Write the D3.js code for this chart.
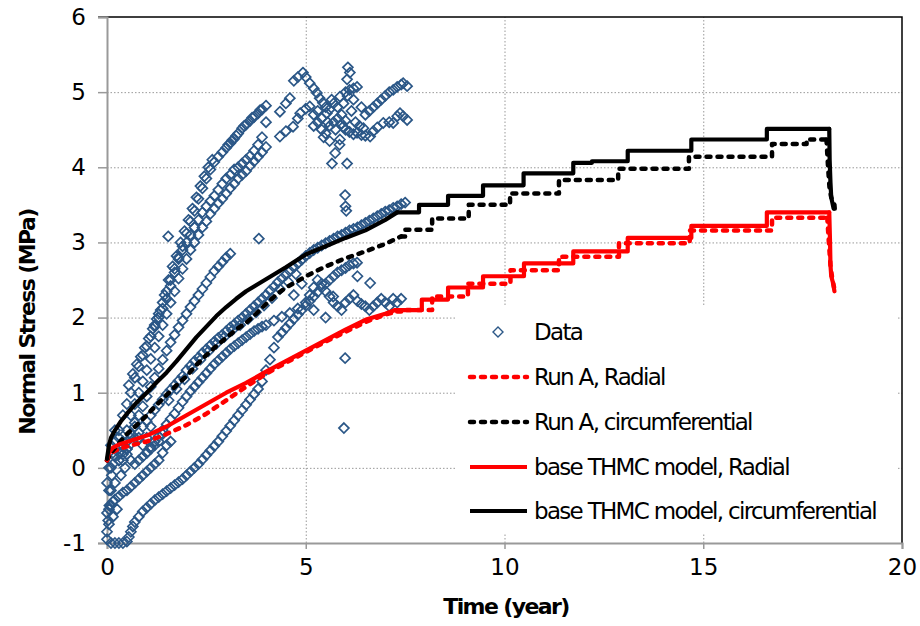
<!DOCTYPE html>
<html>
<head>
<meta charset="utf-8">
<script src="https://cdn.jsdelivr.net/npm/d3@7"></script>
<style>
  body { margin: 0; background: #fff; }
  svg { display: block; font-family: "DejaVu Sans", sans-serif; }
</style>
</head>
<body>
<svg id="chart" width="920" height="626"></svg>
<script>
// ---- data ----
const xTicks = [0, 5, 10, 15, 20];
const yTicks = [-1, 0, 1, 2, 3, 4, 5, 6];

// measured stress, one array per gauge branch [time (year), stress (MPa)]
const gaugeA = [[0.05,-0.3],[0.1,0.0],[0.15,0.2],[0.2,0.35],[0.3,0.5],[0.4,0.7],[0.5,0.85],[0.6,1.0],[0.7,1.2],[0.8,1.35],[0.9,1.5],[1.0,1.62],[1.1,1.75],[1.2,1.88],[1.3,2.0],[1.4,2.12],[1.5,2.25],[1.6,2.42],[1.7,2.6],[1.8,2.78],[1.9,2.95],[2.0,3.12],[2.1,3.28],[2.2,3.42],[2.3,3.58],[2.4,3.72],[2.5,3.85],[2.6,3.97],[2.7,4.07],[2.8,4.14],[2.9,4.2],[3.0,4.26],[3.1,4.32],[3.2,4.38],[3.3,4.45],[3.4,4.52],[3.5,4.57],[3.6,4.62],[3.7,4.67],[3.8,4.72],[3.9,4.77],[4.0,4.82],
  [4.35,4.74],[4.5,4.85],[4.6,4.92],[4.7,5.15],[4.8,5.2],[4.93,5.26],[5.0,5.2],[5.1,5.12],[5.2,5.05],[5.28,4.99],[5.35,4.92],[5.43,4.86],[5.5,4.8],[5.53,4.72],[5.6,4.77],[5.7,4.85],[5.86,4.94],[6.0,5.0],[6.1,5.03],[6.2,5.05],[6.29,5.07],[6.4,4.8],[6.5,4.7],[6.6,4.75],[6.7,4.8],[6.8,4.85],[6.9,4.9],[7.0,4.95],[7.1,5.0],[7.2,5.03],[7.3,5.07],[7.4,5.1],[7.45,5.12],[7.55,5.08]];
const gaugeA2 = [[0.55,1.1],[0.65,1.25],[0.75,1.38],[0.85,1.48],[0.95,1.6],[1.05,1.72],[1.15,1.85],[1.25,1.98],[1.35,2.1],[1.45,2.3],[1.55,2.5],[1.65,2.68],[1.75,2.82],[1.85,3.0],[1.95,3.15],[2.05,3.3],[2.15,3.45],[2.25,3.6],[2.35,3.75],[2.45,3.88],[2.55,4.0],[2.65,4.1],[3.05,4.3],[3.15,4.36],[3.25,4.42],[3.45,4.55],[3.65,4.66],[3.85,4.76]];
const gaugeB = [[0.2,-0.2],[0.3,0.1],[0.4,0.35],[0.5,0.5],[0.6,0.7],[0.7,0.85],[0.8,1.0],[0.9,1.15],[1.0,1.3],[1.1,1.45],[1.2,1.6],[1.3,1.75],[1.4,1.9],[1.5,2.05],[1.6,2.2],[1.7,2.35],[1.8,2.52],[1.9,2.65],[2.0,2.78],[2.1,2.9],[2.2,3.0],[2.3,3.1],[2.4,3.2],[2.5,3.28],[2.6,3.38],[2.7,3.45],[2.8,3.52],[2.9,3.58],[3.0,3.65],[3.1,3.72],[3.2,3.78],[3.3,3.85],[3.4,3.9],[3.5,3.95],[3.6,4.02],[3.7,4.08],[3.8,4.14],[3.9,4.2],[4.0,4.27],
  [4.35,4.41],[4.5,4.48],[4.68,4.54],[4.8,4.65],[4.86,4.72],[5.0,4.78],[5.1,4.81],[5.2,4.7],[5.3,4.6],[5.4,4.5],[5.5,4.45],[5.6,4.55],[5.7,4.6],[5.8,4.65],[5.9,4.58],[6.0,4.5],[6.1,4.47],[6.2,4.44],[6.29,4.46],[6.4,4.43],[6.5,4.42],[6.62,4.41],[6.7,4.48],[6.8,4.53],[6.95,4.59],[7.1,4.6],[7.2,4.59],[7.3,4.68],[7.37,4.72],[7.45,4.68],[7.55,4.63]];
const gaugeC = [[1.2,1.9],[1.3,2.05],[1.4,2.2],[1.5,2.35],[1.6,2.5],[1.7,2.65],[1.8,2.8],[1.9,2.9],[2.0,3.0],[2.1,3.1],[2.2,3.2],[2.3,3.3],[2.4,3.4],[2.5,3.48],[2.6,3.55],[2.7,3.62],[2.8,3.7],[2.9,3.78],[3.0,3.85],[3.1,3.9],[3.2,3.97],[3.3,4.0],[3.4,4.05],[3.5,4.1],[3.6,4.15],[3.7,4.22],[3.8,4.3],[3.9,4.4],[4.0,4.6]];
const gaugeD = [[0.4,0.1],[0.5,0.25],[0.6,0.4],[0.7,0.55],[0.8,0.7],[0.9,0.82],[1.0,0.95],[1.1,1.08],[1.2,1.2],[1.3,1.32],[1.4,1.44],[1.5,1.56],[1.6,1.67],[1.7,1.77],[1.8,1.87],[1.9,1.96],[2.0,2.05],[2.1,2.14],[2.2,2.22],[2.3,2.3],[2.4,2.38],[2.5,2.46],[2.6,2.54],[2.7,2.62],[2.8,2.68],[2.9,2.74],[3.0,2.8],[3.1,2.85]];
const gaugeE = [[0.3,0.1],[0.4,0.18],[0.5,0.25],[0.6,0.32],[0.7,0.4],[0.8,0.47],[0.9,0.55],[1.0,0.62],[1.1,0.7],[1.2,0.77],[1.3,0.84],[1.4,0.91],[1.5,0.98],[1.6,1.04],[1.7,1.1],[1.8,1.16],[1.9,1.22],[2.0,1.3],[2.1,1.36],[2.2,1.42],[2.3,1.47],[2.4,1.53],[2.5,1.58],[2.6,1.63],[2.7,1.68],[2.8,1.73],[2.9,1.77],[3.0,1.82],[3.1,1.87],[3.2,1.91],[3.3,1.96],[3.4,2.0],[3.5,2.05],[3.6,2.1],[3.7,2.15],[3.8,2.2],[3.9,2.25],[4.0,2.3],[4.1,2.36],[4.2,2.41],[4.3,2.47],[4.4,2.52],[4.5,2.57],[4.6,2.62],[4.7,2.67],[4.8,2.72],[4.9,2.77],[5.0,2.82],[5.1,2.86],[5.2,2.9],[5.3,2.93],[5.4,2.96],[5.5,2.99],[5.6,3.02],[5.7,3.05],[5.8,3.08],[5.9,3.1],[6.0,3.13],[6.1,3.16],[6.2,3.18],[6.3,3.2],[6.4,3.23],[6.5,3.26],[6.6,3.29],[6.7,3.32],[6.8,3.35],[6.9,3.38],[7.0,3.41],[7.1,3.43],[7.2,3.46],[7.3,3.48],[7.4,3.51],[7.5,3.53]];
const gaugeE2 = [[1.55,0.9],[1.75,1.05],[1.95,1.18],[2.15,1.32],[2.35,1.44],[2.55,1.55],[2.75,1.65],[2.95,1.74],[3.15,1.83],[3.35,1.9],[3.55,1.98],[3.75,2.07],[3.95,2.16],[4.15,2.26],[4.35,2.38],[4.55,2.48],[4.75,2.58]];
const gaugeF = [[1.0,0.2],[1.1,0.28],[1.2,0.35],[1.3,0.42],[1.4,0.5],[1.5,0.58],[1.6,0.65],[1.7,0.72],[1.8,0.8],[1.9,0.88],[2.0,0.95],[2.1,1.02],[2.2,1.08],[2.3,1.14],[2.4,1.2],[2.5,1.26],[2.6,1.32],[2.7,1.38],[2.8,1.43],[2.9,1.48],[3.0,1.53],[3.1,1.58],[3.2,1.62],[3.3,1.66],[3.4,1.7],[3.5,1.74],[3.6,1.78],[3.7,1.82],[3.8,1.85],[3.9,1.88],[4.0,1.9],[4.2,1.96],[4.4,2.01],[4.6,2.06],[4.8,2.12],[5.0,2.2],[5.1,2.3],[5.2,2.4],[5.3,2.5],[5.4,2.45],[5.5,2.35],[5.6,2.28],[5.7,2.2],[5.8,2.15],[5.9,2.1],[6.0,2.2],[6.1,2.25],[6.2,2.3],[6.3,2.22],[6.4,2.18],[6.5,2.15],[6.6,2.1],[6.7,2.15],[6.8,2.2],[6.9,2.25],[7.0,2.2],[7.1,2.15],[7.2,2.25],[7.3,2.2],[7.4,2.25]];
const gaugeG = [[0.0,-0.95],[0.1,-1.0],[0.2,-1.0],[0.3,-1.0],[0.4,-1.0],[0.5,-0.98],[0.55,-0.92],[0.6,-0.85],[0.65,-0.78],[0.7,-0.72],[0.8,-0.65],[0.9,-0.58],[1.0,-0.53],[1.1,-0.48],[1.2,-0.43],[1.3,-0.39],[1.4,-0.35],[1.5,-0.31],[1.6,-0.27],[1.7,-0.23],[1.8,-0.19],[1.9,-0.15],[2.0,-0.1],[2.1,-0.05],[2.2,0.0],[2.3,0.05],[2.4,0.11],[2.5,0.17],[2.6,0.23],[2.7,0.29],[2.8,0.35],[2.9,0.42],[3.0,0.49],[3.1,0.56],[3.2,0.63],[3.3,0.7],[3.4,0.77],[3.5,0.84],[3.6,0.91],[3.7,0.98],[3.8,1.05],[3.9,1.15],[4.0,1.3],[4.1,1.44],[4.2,1.6],[4.3,1.74],[4.4,1.8],[4.5,1.86],[4.6,1.92],[4.7,1.98],[4.8,2.04],[4.9,2.1],[5.0,2.16],[5.1,2.22],[5.2,2.28],[5.3,2.34],[5.4,2.4],[5.5,2.45],[5.6,2.5],[5.7,2.55],[5.8,2.6],[5.9,2.63],[6.0,2.66],[6.1,2.7],[6.2,2.72],[6.29,2.73]];
const gaugeH = [[0.0,-0.6],[0.05,-0.55],[0.1,-0.5],[0.15,-0.45],[0.2,-0.42],[0.3,-0.38],[0.4,-0.33],[0.5,-0.3],[0.6,-0.25],[0.7,-0.2],[0.8,-0.15],[0.9,-0.1],[1.0,-0.05],[1.1,0.0],[1.2,0.05],[1.3,0.1],[1.4,0.2],[1.5,0.3],[1.6,0.35]];
const gaugeI = [[0.0,-0.85],[0.03,-0.7],[0.06,-0.5],[0.1,-0.3],[0.12,-0.1],[0.15,0.05],[0.2,0.15],[0.3,0.2],[0.4,0.22],[0.5,0.18],[0.6,0.1],[0.7,0.05],[0.8,0.1],[0.9,0.15],[1.0,0.2],[1.1,0.25],[1.2,0.3],[1.3,0.35],[1.4,0.45]];
const gaugeJ = [[0.0,-0.2],[0.05,0.0],[0.1,0.3],[0.2,0.5],[0.3,0.4],[0.4,0.3],[0.5,0.35],[0.6,0.45],[0.7,0.6],[0.8,0.4],[0.9,0.3],[1.0,0.4],[1.1,0.55],[0.05,-0.75],[0.15,-0.65],[0.25,-0.55],[0.35,-0.1],[0.45,0.0]];
const clusterTop = [[5.2,4.55],[5.3,4.75],[5.4,4.65],[5.45,4.4],[5.55,4.6],[5.6,4.35],[5.65,4.9],[5.75,4.5],[5.8,4.8],[5.85,4.3],[5.9,4.7],[5.95,4.85],[6.0,4.62],[6.05,4.95],[6.06,5.33],[6.11,5.26],[6.04,5.17],[6.15,4.75],[6.2,4.9],[6.25,4.6],[6.35,4.55],[6.45,4.52],[5.86,4.37],[5.94,4.54]];
const outliers = [[1.54,3.08],[3.82,3.05],[5.96,0.53],[5.99,1.46],[5.99,3.63],[6.0,3.48],[6.02,3.42],[5.66,4.05],[6.04,4.05],[5.74,4.19],[6.62,2.46],[5.69,2.28],[6.3,2.55],[4.7,2.3],[4.9,2.45],[5.2,2.1],[5.5,2.0]];

// model curves: smooth rise, then steps [t, new level], then the final drop
const baseCircRise = [[0,0.12],[0.05,0.3],[0.1,0.4],[0.2,0.5],[0.35,0.62],[0.5,0.72],[0.75,0.87],[1.0,1.0],[1.25,1.14],[1.5,1.27],[1.75,1.42],[2.0,1.58],[2.25,1.74],[2.5,1.88],[2.75,2.02],[3.0,2.14],[3.25,2.25],[3.5,2.35],[3.75,2.43],[4.0,2.51],[4.5,2.67],[5.0,2.84],[5.5,2.95],[6.0,3.06],[6.5,3.16],[7.0,3.3],[7.3,3.4]];
const baseCircSteps = [[7.3,3.4],[7.85,3.5],[8.58,3.62],[9.46,3.76],[10.48,3.92],[11.73,4.06],[12.2,4.08],[13.1,4.22],[14.7,4.37],[16.6,4.51],[18.17,4.51]];
const baseCircDrop = [[18.17,4.51],[18.18,4.1],[18.2,3.8],[18.22,3.6],[18.28,3.45]];

const runACircRise = [[0,0.1],[0.1,0.2],[0.25,0.3],[0.5,0.45],[0.75,0.57],[1.0,0.7],[1.25,0.84],[1.5,0.97],[1.75,1.1],[2.0,1.22],[2.25,1.37],[2.5,1.5],[2.75,1.62],[3.0,1.73],[3.25,1.84],[3.5,1.93],[3.75,2.05],[4.0,2.18],[4.25,2.3],[4.5,2.4],[4.75,2.47],[5.0,2.55],[5.5,2.68],[6.0,2.79],[6.5,2.88],[7.0,2.98],[7.4,3.08]];
const runACircSteps = [[7.4,3.08],[7.5,3.17],[8.18,3.32],[9.1,3.5],[10.14,3.65],[11.37,3.83],[12.86,3.98],[14.64,4.14],[16.73,4.31],[17.6,4.37],[18.1,4.37]];
const runACircDrop = [[18.1,4.37],[18.14,4.0],[18.18,3.7],[18.22,3.6],[18.3,3.5],[18.32,3.37]];

const baseRadRise = [[0,0.1],[0.05,0.2],[0.15,0.27],[0.3,0.31],[0.6,0.36],[1.0,0.43],[1.5,0.55],[2.0,0.7],[2.5,0.85],[3.0,1.0],[3.5,1.13],[4.0,1.28],[4.5,1.42],[5.0,1.56],[5.5,1.7],[6.0,1.84],[6.5,1.97],[7.0,2.05],[7.25,2.1]];
const baseRadSteps = [[7.25,2.1],[7.92,2.24],[8.58,2.4],[9.46,2.55],[10.49,2.72],[11.73,2.88],[13.1,3.06],[14.7,3.22],[16.6,3.4],[18.17,3.4]];
const baseRadDrop = [[18.17,3.4],[18.19,3.0],[18.2,2.7],[18.22,2.55],[18.27,2.45],[18.3,2.35]];

const runARadRise = [[0,0.1],[0.1,0.2],[0.3,0.25],[0.6,0.3],[1.0,0.35],[1.5,0.45],[2.0,0.57],[2.5,0.72],[3.0,0.9],[3.5,1.08],[4.0,1.25],[4.5,1.4],[5.0,1.54],[5.5,1.68],[6.0,1.81],[6.5,1.94],[7.0,2.04],[7.3,2.08]];
const runARadSteps = [[7.3,2.08],[7.4,2.1],[8.18,2.28],[9.08,2.45],[10.15,2.63],[11.37,2.81],[12.88,2.99],[14.66,3.16],[16.73,3.33],[18.12,3.33]];
const runARadDrop = [[18.12,3.33],[18.16,3.0],[18.2,2.7],[18.25,2.5],[18.3,2.38]];

const legendLabels = ['Data', 'Run A, Radial', 'Run A, circumferential', 'base THMC model, Radial', 'base THMC model, circumferential'];

// ---- layout ----
const svg = d3.select('#chart');
const plot = { left: 107, right: 902, top: 17, bottom: 543 };
const blue = '#2b5787';

const x = d3.scaleLinear().domain([0, 20]).range([plot.left, plot.right]);
const y = d3.scaleLinear().domain([-1, 6]).range([plot.bottom, plot.top]);

// gridlines
svg.append('g')
  .attr('transform', `translate(${plot.left},0)`)
  .call(d3.axisLeft(y).tickValues(yTicks.filter(d => d > -1 && d < 6))
    .tickSize(-(plot.right - plot.left)).tickFormat(''))
  .call(g => g.select('.domain').remove())
  .call(g => g.selectAll('line').attr('stroke', '#999').attr('stroke-dasharray', '1.5,2'));

svg.append('g')
  .attr('transform', `translate(0,${plot.bottom})`)
  .call(d3.axisBottom(x).tickValues(xTicks.filter(d => d > 0 && d < 20))
    .tickSize(-(plot.bottom - plot.top)).tickFormat(''))
  .call(g => g.select('.domain').remove())
  .call(g => g.selectAll('line').attr('stroke', '#999').attr('stroke-dasharray', '1.5,2'));

// top and right frame
svg.append('path')
  .attr('d', `M${plot.left - 9},${plot.top}H${plot.right}V${plot.bottom}`)
  .attr('fill', 'none').attr('stroke', '#000').attr('stroke-width', 1.5);

// axes
const yAxis = svg.append('g')
  .attr('transform', `translate(${plot.left},0)`)
  .call(d3.axisLeft(y).tickValues(yTicks).tickSize(9).tickPadding(12).tickFormat(d3.format('d')));
const xAxis = svg.append('g')
  .attr('transform', `translate(0,${plot.bottom})`)
  .call(d3.axisBottom(x).tickValues(xTicks).tickSize(6).tickPadding(10));
[yAxis, xAxis].forEach(a => {
  a.select('.domain').attr('stroke', '#999').attr('stroke-width', 2);
  a.selectAll('.tick line').attr('stroke', '#999').attr('stroke-width', 1.5);
  a.selectAll('.tick text').attr('font-size', 23).attr('fill', '#000')
    .attr('font-family', '"DejaVu Sans", sans-serif');
});
yAxis.selectAll('.tick text').text(d => d < 0 ? '-' + Math.abs(d) : d);

// data markers
const diamond = 'M0,-5L5,0L0,5L-5,0Z';
const allGauges = [gaugeA, gaugeA2, gaugeB, gaugeC, gaugeD, gaugeE, gaugeE2, gaugeF, gaugeG, gaugeH, gaugeI, gaugeJ, clusterTop, outliers];

// model lines
const line = d3.line().x(d => x(d[0])).y(d => y(d[1]));
const stepLine = d3.line().x(d => x(d[0])).y(d => y(d[1])).curve(d3.curveStepAfter);

const models = [
  { parts: [runARadRise, runARadSteps, runARadDrop], color: '#ff0000', dashed: true },
  { parts: [runACircRise, runACircSteps, runACircDrop], color: '#000', dashed: true },
  { parts: [baseRadRise, baseRadSteps, baseRadDrop], color: '#ff0000', dashed: false },
  { parts: [baseCircRise, baseCircSteps, baseCircDrop], color: '#000', dashed: false }
];

const markers = svg.append('g').attr('class', 'data');
allGauges.forEach(g => {
  markers.selectAll(null)
    .data(g)
    .join('path')
    .attr('d', diamond)
    .attr('transform', d => `translate(${x(d[0])},${y(d[1])})`)
    .attr('fill', 'none')
    .attr('stroke', blue)
    .attr('stroke-width', 1.7);
});

const lines = svg.append('g').attr('class', 'models');
models.forEach(m => {
  m.parts.forEach((p, i) => {
    lines.append('path')
      .attr('d', i === 1 ? stepLine(p) : line(p))
      .attr('fill', 'none')
      .attr('stroke', m.color)
      .attr('stroke-width', m.dashed ? 4.5 : 4.2)
      .attr('stroke-linecap', 'round')
      .attr('stroke-linejoin', 'round')
      .attr('stroke-dasharray', m.dashed ? '4,7' : null);
  });
});

// legend
const legend = svg.append('g');
legend.append('rect')
  .attr('x', 455).attr('y', 307).attr('width', 441).attr('height', 226)
  .attr('fill', '#fff');
const rowY = [332, 377, 422, 467, 511];
legendLabels.forEach((label, i) => {
  const ry = rowY[i];
  if (i === 0) {
    legend.append('path').attr('d', diamond)
      .attr('transform', `translate(498,${ry})`)
      .attr('fill', 'none').attr('stroke', blue).attr('stroke-width', 1.4);
  } else {
    const m = models[i - 1];
    legend.append('line')
      .attr('x1', 470).attr('x2', 527).attr('y1', ry).attr('y2', ry)
      .attr('stroke', m.color)
      .attr('stroke-width', m.dashed ? 4.5 : 4)
      .attr('stroke-linecap', m.dashed ? 'round' : 'butt')
      .attr('stroke-dasharray', m.dashed ? '4,7' : null);
  }
  legend.append('text')
    .attr('x', 534).attr('y', ry + 8)
    .attr('font-size', 23).attr('letter-spacing', -1.7)
    .text(label);
});

// axis titles
svg.append('text')
  .attr('transform', 'translate(35,322) rotate(-90)')
  .attr('text-anchor', 'middle')
  .attr('font-size', 22).attr('font-weight', 'bold').attr('letter-spacing', -1.6)
  .text('Normal Stress (MPa)');
svg.append('text')
  .attr('x', 506).attr('y', 614)
  .attr('text-anchor', 'middle')
  .attr('font-size', 22).attr('font-weight', 'bold').attr('letter-spacing', -1.6)
  .text('Time (year)');
</script>
</body>
</html>
